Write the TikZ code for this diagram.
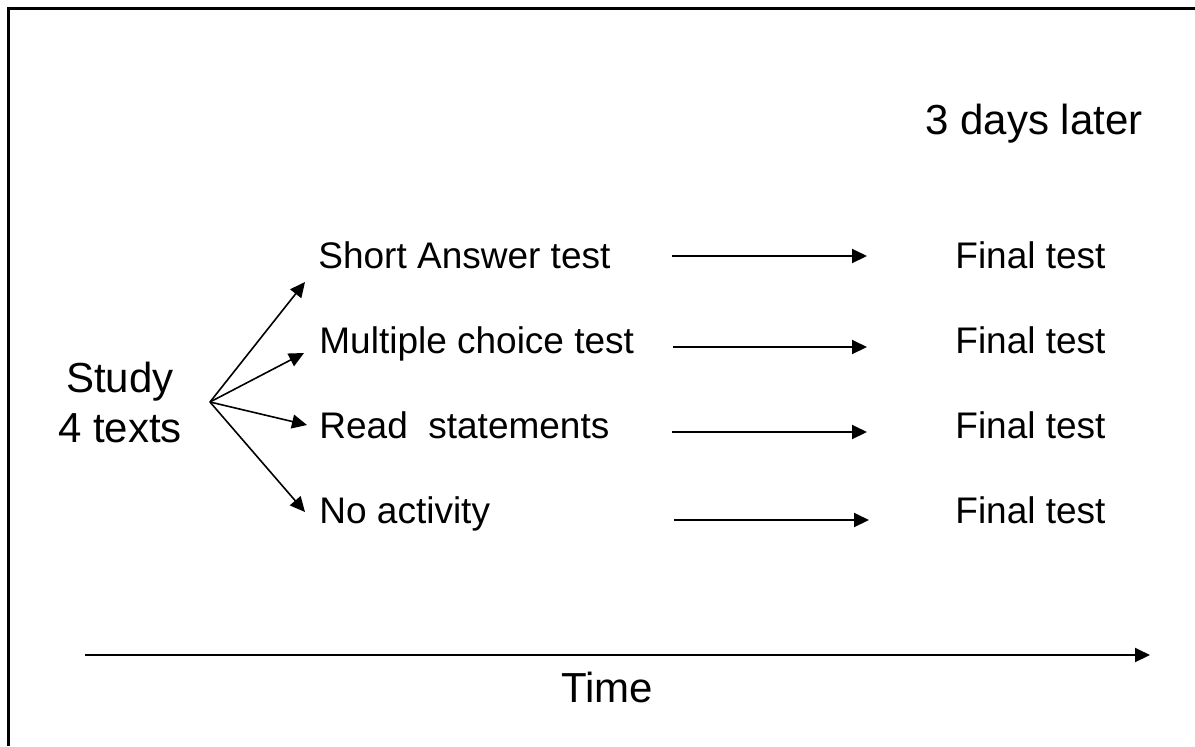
\documentclass[tikz,border=0pt]{standalone}
\usepackage{fontspec}
\setmainfont{Liberation Sans}
\usetikzlibrary{arrows.meta}
\tikzset{
  edgeact/.style={black, line width=0.8pt, -{Triangle[length=7.5pt,width=7pt]}},
  edgefin/.style={black, line width=1pt, -{Triangle[length=7.5pt,width=7pt]}},
  lbl/.style={inner sep=0pt, anchor=base west, font=\fontsize{18.5}{22}\selectfont},
  biglbl/.style={inner sep=0pt, font=\fontsize{21}{25}\selectfont}
}

\begin{document}
\begin{tikzpicture}[x=0.5pt, y=-0.5pt]
\useasboundingbox (0,0) rectangle (1195,746);
\draw[line width=1.5pt] (8,746) -- (8,8) -- (1195,8);

\node[biglbl, anchor=base west] (later) at (925,134) {3 days later};
\node[biglbl, align=center, anchor=base] (study) at (120,442) {Study\\4 texts};

\node[lbl] (sa) at (318,268) {Short Answer test};
\node[lbl] (mc) at (319,353) {Multiple choice test};
\node[lbl] (rs) at (319,438) {Read\ \ statements};
\node[lbl] (na) at (319,523) {No activity};

\node[lbl] (f1) at (955,268) {Final test};
\node[lbl] (f2) at (955,353) {Final test};
\node[lbl] (f3) at (955,438) {Final test};
\node[lbl] (f4) at (955,523) {Final test};

% fan out from the study phase
\coordinate (hub) at (210,402);
\coordinate (t1) at (305,282);
\coordinate (t2) at (304,353);
\coordinate (t3) at (307,425);
\coordinate (t4) at (305,512);
\draw[edgeact] (hub) -- (t1);
\draw[edgeact] (hub) -- (t2);
\draw[edgeact] (hub) -- (t3);
\draw[edgeact] (hub) -- (t4);

% delay to the final test
\coordinate (s1) at (672,256);
\coordinate (e1) at (867,256);
\coordinate (s2) at (673,347);
\coordinate (e2) at (867,347);
\coordinate (s3) at (672,432);
\coordinate (e3) at (867,432);
\coordinate (s4) at (674,520);
\coordinate (e4) at (869,520);
\draw[edgefin] (s1) -- (e1);
\draw[edgefin] (s2) -- (e2);
\draw[edgefin] (s3) -- (e3);
\draw[edgefin] (s4) -- (e4);

% time axis
\coordinate (t0) at (85,655);
\coordinate (tend) at (1150,655);
\draw[edgefin] (t0) -- (tend);
\node[biglbl, anchor=base] (time) at (607,702) {Time};
\end{tikzpicture}
\end{document}
